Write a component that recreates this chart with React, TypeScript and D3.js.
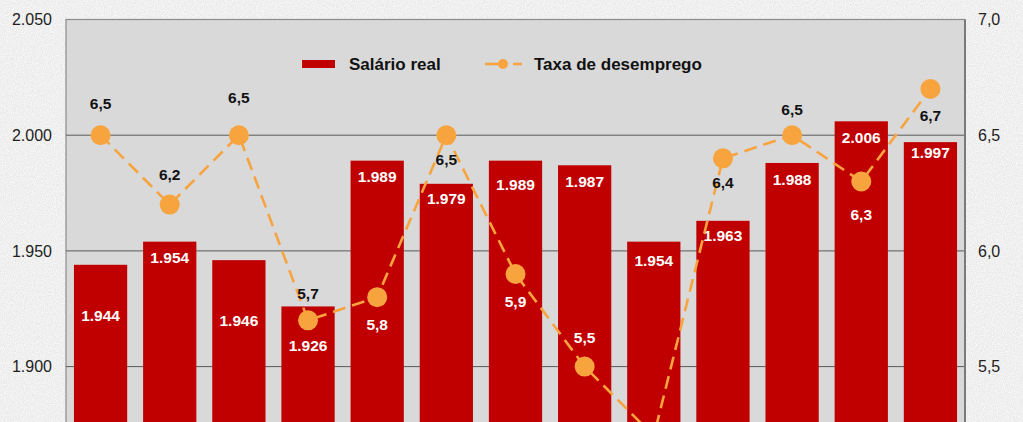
import React from "react";
import * as d3 from "d3";

const categories = ["1", "2", "3", "4", "5", "6", "7", "8", "9", "10", "11", "12", "13"];
const salarioReal = [1944, 1954, 1946, 1926, 1989, 1979, 1989, 1987, 1954, 1963, 1988, 2006, 1997];
const taxaDesemprego = [6.5, 6.2, 6.5, 5.7, 5.8, 6.5, 5.9, 5.5, 5.2, 6.4, 6.5, 6.3, 6.7];
const leftTicks = [1900, 1950, 2000, 2050];
const rightTicks = [5.5, 6.0, 6.5, 7.0];
const seriesNames = ["Salário real", "Taxa de desemprego"];

// label placement (pixels), kept apart from data
const barLabelDy = [51, 16, 60, 39, 16, 15, 24, 16, 19, 15, 17, 16, 10];
const pointLabelDy = [-32, -30, -38, -27, 27, 24, 28, -29, 28, 24, -26, 33, 27];
const pointLabelWhite = [false, false, false, false, true, false, true, true, true, false, false, true, false];

const W = 1023;
const H = 422;
const M = { left: 66, right: 965, top: 19.5 };
const STEP = 115.7;

const loc = d3.formatLocale({ decimal: ",", thousands: ".", grouping: [3], currency: ["R$", ""] });
const fmtInt = loc.format(",.0f");
const fmtDec = loc.format(".1f");

const RED = "#c00000";
const ORANGE = "#f7a43f";
const FONT = "'Liberation Sans', Arial, sans-serif";

export default function App() {
  const bottom = M.top + STEP * 5;
  const x = d3.scaleBand<string>().domain(categories).range([M.left, M.right]).paddingInner(0.23).paddingOuter(0.115);
  const yL = d3.scaleLinear().domain([1800, 2050]).range([bottom, M.top]);
  const yR = d3.scaleLinear().domain([4.5, 7.0]).range([bottom, M.top]);
  const cx = (i: number) => (x(categories[i]) as number) + x.bandwidth() / 2;
  const line = d3
    .line<number>()
    .x((_, i) => cx(i))
    .y((d) => yR(d));

  return (
    <svg
      width={W}
      height={H}
      style={{ position: "absolute", left: 0, top: 0, display: "block" }}
      fontFamily={FONT}
    >
      <defs>
        <filter id="paper" x="0" y="0" width="100%" height="100%">
          <feTurbulence type="fractalNoise" baseFrequency="0.9" numOctaves="2" seed="3" result="n" />
          <feColorMatrix
            in="n"
            type="matrix"
            values="0 0 0 0 1  0 0 0 0 1  0 0 0 0 1  1.6 0 0 0 -0.5"
          />
        </filter>
        <clipPath id="plotClip">
          <rect x={M.left} y={M.top} width={M.right - M.left} height={bottom - M.top} />
        </clipPath>
      </defs>
      <rect x={0} y={0} width={W} height={H} fill="#e9e9e9" />
      <rect x={0} y={0} width={W} height={H} filter="url(#paper)" />
      <rect x={M.left} y={M.top} width={M.right - M.left} height={bottom - M.top} fill="#d9d9d9" stroke="#8c8c8c" strokeWidth={1.2} />

      {leftTicks.map((t) => (
        <g key={"g" + t}>
          {t !== 2050 && (
            <line x1={M.left} x2={M.right} y1={yL(t)} y2={yL(t)} stroke="#5a5a5a" strokeWidth={1} />
          )}
          <text x={52} y={yL(t)} dy="0.35em" textAnchor="end" fontSize={16} fill="#222">
            {fmtInt(t)}
          </text>
        </g>
      ))}
      {rightTicks.map((t) => (
        <text key={"r" + t} x={978} y={yR(t)} dy="0.35em" textAnchor="start" fontSize={16} fill="#222">
          {fmtDec(t)}
        </text>
      ))}
      <line x1={M.right} x2={M.right} y1={M.top} y2={bottom} stroke="#7a7a7a" strokeWidth={2} />

      <g clipPath="url(#plotClip)">
        {salarioReal.map((v, i) => (
          <rect
            key={"b" + i}
            x={x(categories[i]) as number}
            y={yL(v)}
            width={x.bandwidth()}
            height={bottom - yL(v)}
            fill={RED}
          />
        ))}
      </g>
      {salarioReal.map((v, i) => (
        <text
          key={"bl" + i}
          x={cx(i)}
          y={yL(v) + barLabelDy[i]}
          dy="0.35em"
          textAnchor="middle"
          fontSize={15.5}
          fontWeight="bold"
          fill="#fff"
        >
          {fmtInt(v)}
        </text>
      ))}

      <g clipPath="url(#plotClip)">
        <path
          d={line(taxaDesemprego) as string}
          fill="none"
          stroke={ORANGE}
          strokeWidth={2.6}
          strokeDasharray="13 7"
        />
        {taxaDesemprego.map((v, i) => (
          <circle key={"c" + i} cx={cx(i)} cy={yR(v)} r={10} fill={ORANGE} />
        ))}
      </g>
      {taxaDesemprego.map((v, i) => (
        <text
          key={"pl" + i}
          x={cx(i)}
          y={yR(v) + pointLabelDy[i]}
          dy="0.35em"
          textAnchor="middle"
          fontSize={15.5}
          fontWeight="bold"
          fill={pointLabelWhite[i] ? "#fff" : "#111"}
        >
          {fmtDec(v)}
        </text>
      ))}

      <g>
        <rect x={302} y={60} width={33} height={8} fill={RED} />
        <text x={349} y={64} dy="0.35em" fontSize={17} fontWeight="bold" fill="#111">
          {seriesNames[0]}
        </text>
        <line x1={485} x2={522} y1={64} y2={64} stroke={ORANGE} strokeWidth={2.6} strokeDasharray="22 6" />
        <circle cx={503} cy={64} r={5} fill={ORANGE} />
        <text x={534} y={64} dy="0.35em" fontSize={17} fontWeight="bold" fill="#111">
          {seriesNames[1]}
        </text>
      </g>
    </svg>
  );
}
